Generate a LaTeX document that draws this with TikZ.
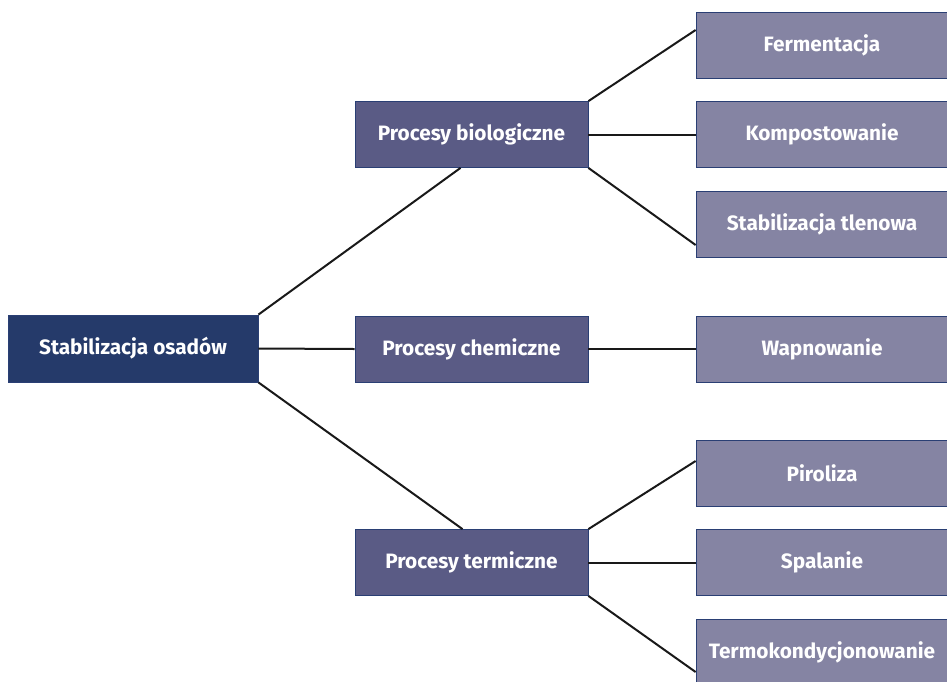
\documentclass[tikz,border=0pt]{standalone}
\usepackage{fontspec}
\setmainfont{Fira Sans}
\usepackage{tikz}
\usetikzlibrary{positioning, calc}
\definecolor{rootblue}{RGB}{37, 58, 106}
\definecolor{midblue}{RGB}{90, 91, 133}
\definecolor{leafblue}{RGB}{133, 132, 163}
\definecolor{edgeblue}{RGB}{42, 63, 116}

\tikzset{
  basebox/.style={rectangle, draw=edgeblue, line width=0.8pt, text=white, font=\bfseries\fontsize{20.8}{24}\selectfont, align=center, inner sep=0pt},
  rootbox/.style={basebox, fill=rootblue, minimum width=250pt, minimum height=67pt},
  midbox/.style={basebox, fill=midblue, minimum width=233pt, minimum height=66pt},
  leafbox/.style={basebox, fill=leafblue, minimum width=252pt, minimum height=66pt},
  link/.style={draw=black!90, line width=2pt}
}

\begin{document}
\begin{tikzpicture}[x=1pt, y=-1pt]
    \useasboundingbox (0,0) rectangle (947,681);

    % root
    \node[rootbox] (root) at (133,348.5) {Stabilizacja osadów};

    % second level
    \node[midbox] (bio) at (471.5,134.5) {Procesy biologiczne};
    \node[midbox] (chem) at (471.5,349) {Procesy chemiczne};
    \node[midbox] (term) at (471.5,562.5) {Procesy termiczne};

    % leaves
    \node[leafbox] (ferm) at (822,45) {Fermentacja};
    \node[leafbox] (komp) at (822,134.5) {Kompostowanie};
    \node[leafbox] (tlen) at (822,224) {Stabilizacja tlenowa};
    \node[leafbox] (wapn) at (822,349) {Wapnowanie};
    \node[leafbox] (piro) at (822,473) {Piroliza};
    \node[leafbox] (spal) at (822,562.5) {Spalanie};
    \node[leafbox] (tkon) at (822,652) {Termokondycjonowanie};

    % connectors
    \draw[link] (root.north east) -- ([xshift=-11pt]bio.south);
    \draw[link] (root.east) -- (chem.west);
    \draw[link] (root.south east) -- ([xshift=-9pt]term.north);

    \draw[link] (bio.north east) -- ([yshift=15pt]ferm.west);
    \draw[link] (bio.east) -- (komp.west);
    \draw[link] (bio.south east) -- ([yshift=-21pt]tlen.west);

    \draw[link] (chem.east) -- (wapn.west);

    \draw[link] (term.north east) -- ([yshift=12pt]piro.west);
    \draw[link] (term.east) -- (spal.west);
    \draw[link] (term.south east) -- ([yshift=-20pt]tkon.west);
\end{tikzpicture}
\end{document}
